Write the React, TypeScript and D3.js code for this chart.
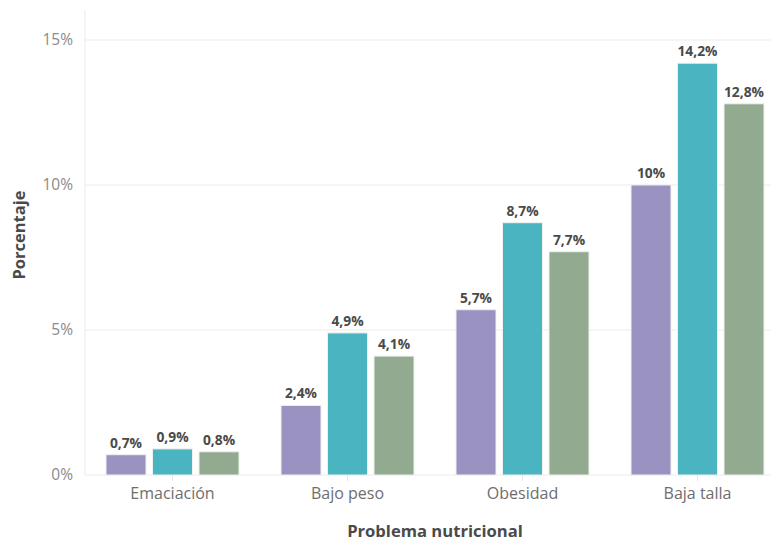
import React from "react";
import * as d3 from "d3";

const categories = ["Emaciación", "Bajo peso", "Obesidad", "Baja talla"];
const seriesKeys = ["s1", "s2", "s3"];
const series1 = [0.7, 2.4, 5.7, 10];
const series2 = [0.9, 4.9, 8.7, 14.2];
const series3 = [0.8, 4.1, 7.7, 12.8];
const yTicks = [0, 5, 10, 15];
const colors = ["#9a93c2", "#4bb4c1", "#92aa90"];

const W = 771;
const H = 541;
const FONT = "'Open Sans', Lato, sans-serif";

const fmt = (v: number) => String(v).replace(".", ",") + "%";

export default function App() {
  const values = [series1, series2, series3];
  const x = d3.scaleBand<string>().domain(categories).range([85, 785]).paddingInner(0.24).paddingOuter(0.12);
  const xs = d3.scaleBand<string>().domain(seriesKeys).range([0, x.bandwidth()]).paddingInner(0.14);
  const y = d3.scaleLinear().domain([0, 15]).range([475, 40]);

  return (
    <svg width={W} height={H} style={{ position: "absolute", left: 0, top: 0, background: "#fff" }} fontFamily={FONT}>
      {/* grid */}
      {yTicks.map((t) => (
        <line key={t} x1={85} x2={W} y1={y(t)} y2={y(t)} stroke="#ebebeb" strokeWidth={1} />
      ))}
      <line x1={85} x2={85} y1={10} y2={475} stroke="#ebebeb" strokeWidth={1} />
      {yTicks.map((t) => (
        <text key={"yl" + t} x={73} y={y(t)} dy="0.35em" textAnchor="end" fontSize={15.5} fill="#8a8a8a">
          {t}%
        </text>
      ))}
      {/* bars */}
      {categories.map((c, i) => (
        <g key={c} transform={`translate(${x(c)},0)`}>
          {seriesKeys.map((k, j) => {
            const v = values[j][i];
            const bx = xs(k)!;
            return (
              <g key={k}>
                <rect
                  x={bx}
                  y={y(v)}
                  width={xs.bandwidth()}
                  height={y(0) - y(v)}
                  fill={colors[j]}
                  stroke="#eef2ee"
                  strokeWidth={1}
                />
                <text
                  x={bx + xs.bandwidth() / 2}
                  y={y(v) - 7}
                  textAnchor="middle"
                  fontSize={13.8}
                  fontWeight="bold"
                  fill="#4a4a4a"
                >
                  {fmt(v)}
                </text>
              </g>
            );
          })}
        </g>
      ))}
      {/* x axis ticks and labels */}
      {categories.map((c) => {
        const cx = x(c)! + x.bandwidth() / 2;
        return (
          <g key={"xt" + c}>
            <line x1={cx} x2={cx} y1={475} y2={481} stroke="#e6e6e6" />
            <text x={cx} y={499} textAnchor="middle" fontSize={16} fill="#6e6e6e">
              {c}
            </text>
          </g>
        );
      })}
      <text x={435} y={537} textAnchor="middle" fontSize={16.6} fontWeight="bold" fill="#4a4a4a">
        Problema nutricional
      </text>
      <text
        transform="translate(25,235) rotate(-90)"
        textAnchor="middle"
        fontSize={16.5}
        fontWeight="bold"
        fill="#4a4a4a"
      >
        Porcentaje
      </text>
    </svg>
  );
}
